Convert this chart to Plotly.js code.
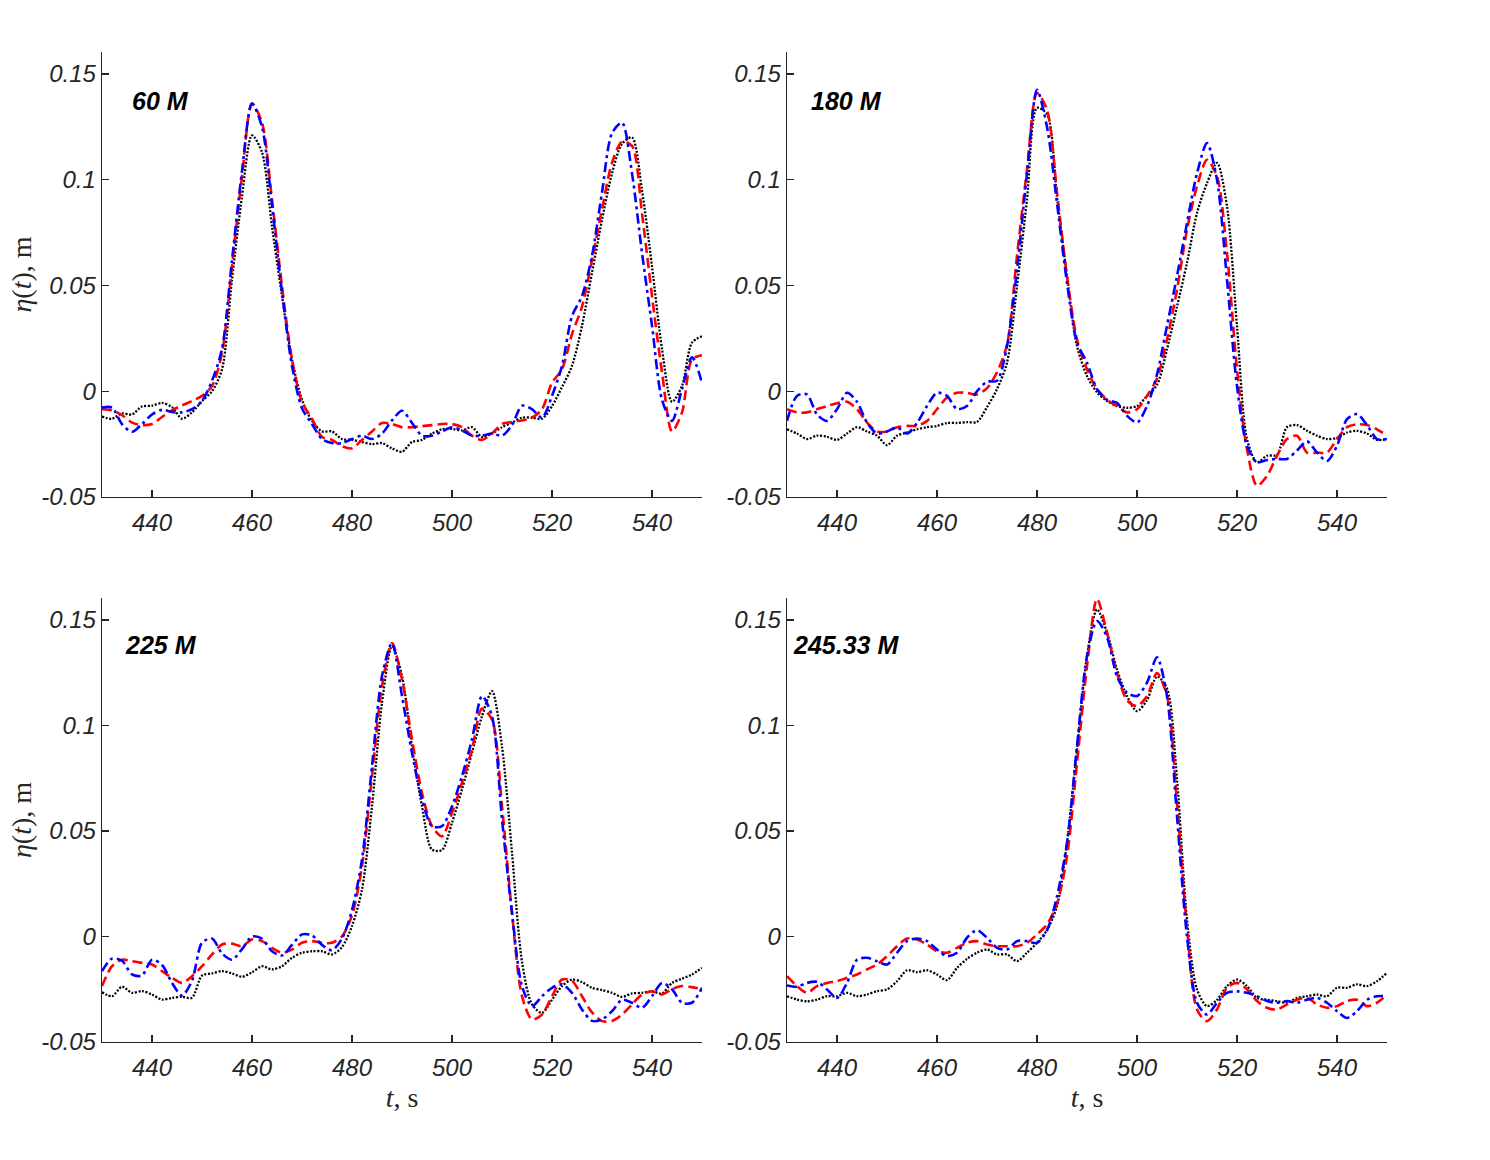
<!DOCTYPE html>
<html>
<head>
<meta charset="utf-8">
<script src="https://cdn.plot.ly/plotly-3.0.1.min.js"></script>
<style>
  html, body { margin: 0; padding: 0; background: #fff; }
  #chart { width: 1490px; height: 1160px; }
</style>
</head>
<body>
<div id="chart"></div>
<script>
/* Surface elevation at four gauges: measured (black), two model runs (red, blue) */

const timeS = [
    430, 432, 434, 436, 438, 440, 442, 444, 446, 448,
    450, 452, 454, 456, 458, 460, 462, 464, 466, 468,
    470, 472, 474, 476, 478, 480, 482, 484, 486, 488,
    490, 492, 494, 496, 498, 500, 502, 504, 506, 508,
    510, 512, 514, 516, 518, 520, 522, 524, 526, 528,
    530, 532, 534, 536, 538, 540, 542, 544, 546, 548,
    550
];

const panelLabels = ['60 M', '180 M', '225 M', '245.33 M'];

const xTicks = [440, 460, 480, 500, 520, 540];
const yTicks = [-0.05, 0, 0.05, 0.1, 0.15];
const yTickText = ['-0.05', '0', '0.05', '0.1', '0.15'];

// gauge 60 M
const g60Measured = [
    -0.012, -0.013, -0.0105, -0.011, -0.0072, -0.0068, -0.0055, -0.0075, -0.013, -0.010,
    -0.0046, 0.0, 0.0104, 0.053, 0.092, 0.121, 0.113, 0.078, 0.045, 0.015,
    -0.004, -0.014, -0.019, -0.019, -0.0226, -0.023, -0.024, -0.025, -0.0245, -0.027,
    -0.0286, -0.024, -0.023, -0.020, -0.018, -0.0178, -0.0185, -0.017, -0.0217, -0.020,
    -0.017, -0.0148, -0.0125, -0.0125, -0.013, -0.007, 0.002, 0.012, 0.031, 0.056,
    0.081, 0.103, 0.117, 0.120, 0.095, 0.059, 0.020, -0.005, 0.0025, 0.023,
    0.026
];
const g60ModelA = [
    -0.0085, -0.009, -0.0113, -0.0148, -0.016, -0.0155, -0.0122, -0.009, -0.0067, -0.0046,
    -0.0022, 0.0025, 0.018, 0.059, 0.1015, 0.136, 0.127, 0.0906, 0.0497, 0.015,
    -0.0052, -0.013, -0.0216, -0.023, -0.026, -0.027, -0.023, -0.019, -0.015, -0.0155,
    -0.017, -0.017, -0.0165, -0.016, -0.0155, -0.0155, -0.017, -0.021, -0.023, -0.020,
    -0.0155, -0.0145, -0.0138, -0.0125, -0.0085, 0.004, 0.0104, 0.027, 0.040, 0.062,
    0.086, 0.108, 0.118, 0.116, 0.084, 0.045, 0.009, -0.019, -0.010, 0.015,
    0.017
];
const g60ModelB = [
    -0.0077, -0.0077, -0.0155, -0.0192, -0.0155, -0.011, -0.0088, -0.0098, -0.010, -0.0085,
    -0.0046, 0.0049, 0.020, 0.062, 0.104, 0.136, 0.125, 0.088, 0.047, 0.012,
    -0.008, -0.0155, -0.0226, -0.0245, -0.0245, -0.0226, -0.021, -0.0226, -0.020, -0.0138,
    -0.0092, -0.015, -0.021, -0.021, -0.019, -0.017, -0.0185, -0.021, -0.021, -0.020,
    -0.021, -0.016, -0.0068, -0.0085, -0.0125, -0.0022, 0.012, 0.0355, 0.045, 0.064,
    0.094, 0.122, 0.127, 0.103, 0.0655, 0.031, -0.004, -0.014, 0.001, 0.016,
    0.004
];

// gauge 180 M
const g180Measured = [
    -0.018, -0.020, -0.0226, -0.021, -0.0215, -0.023, -0.020, -0.017, -0.019, -0.021,
    -0.0255, -0.021, -0.0195, -0.018, -0.017, -0.0164, -0.015, -0.015, -0.0146, -0.0145,
    -0.0075, 0.001, 0.0135, 0.0497, 0.0906, 0.134, 0.131, 0.092, 0.0544, 0.0214,
    0.0072, -0.0005, -0.0046, -0.007, -0.0078, -0.007, -0.0022, 0.003, 0.0198, 0.040,
    0.0607, 0.0843, 0.0984, 0.108, 0.0874, 0.0308, -0.0226, -0.0336, -0.0305, -0.030,
    -0.017, -0.016, -0.0187, -0.021, -0.0226, -0.022, -0.0195, -0.0187, -0.020, -0.023,
    -0.0226
];
const g180ModelA = [
    -0.0085, -0.010, -0.010, -0.0085, -0.007, -0.0057, -0.005, -0.0085, -0.0148, -0.019,
    -0.019, -0.017, -0.0164, -0.0164, -0.014, -0.0085, -0.003, -0.0007, -0.0008, -0.0015,
    0.0015, 0.009, 0.022, 0.064, 0.1047, 0.141, 0.133, 0.094, 0.0544, 0.0245,
    0.0104, 0.001, -0.004, -0.007, -0.010, -0.0085, -0.0022, 0.006, 0.0245, 0.048,
    0.0764, 0.0969, 0.1094, 0.1016, 0.0654, 0.0104, -0.0274, -0.0447, -0.040, -0.0305,
    -0.0226, -0.021, -0.029, -0.029, -0.029, -0.0226, -0.017, -0.0156, -0.016, -0.018,
    -0.021
];
const g180ModelB = [
    -0.014, -0.0022, -0.0015, -0.011, -0.014, -0.0085, -0.0007, -0.005, -0.0148, -0.020,
    -0.019, -0.017, -0.020, -0.015, -0.007, -0.0007, -0.0022, -0.0085, -0.007, 0.0,
    0.0045, 0.005, 0.0214, 0.0575, 0.103, 0.1425, 0.125, 0.089, 0.0513, 0.023,
    0.0135, 0.001, -0.004, -0.0055, -0.0116, -0.0148, -0.007, 0.008, 0.031, 0.0544,
    0.0795, 0.103, 0.1173, 0.100, 0.0528, 0.0025, -0.0258, -0.0336, -0.0325, -0.032,
    -0.032, -0.028, -0.0237, -0.029, -0.033, -0.0258, -0.0132, -0.0108, -0.016, -0.0226,
    -0.0226
];

// gauge 225 M
const g225Measured = [
    -0.0264, -0.0283, -0.0238, -0.0267, -0.0259, -0.0275, -0.0299, -0.0291, -0.0286, -0.029,
    -0.0185, -0.0175, -0.0164, -0.0175, -0.0191, -0.017, -0.0141, -0.0156, -0.0141, -0.0101,
    -0.0077, -0.007, -0.007, -0.0085, -0.005, 0.005, 0.0223, 0.0617, 0.1107, 0.1376,
    0.1234, 0.090, 0.0617, 0.0412, 0.041, 0.0539, 0.0697, 0.0871, 0.1044, 0.1163,
    0.090, 0.0397, -0.012, -0.0322, -0.0362, -0.030, -0.0235, -0.0204, -0.0216, -0.0243,
    -0.0254, -0.0267, -0.0286, -0.027, -0.0267, -0.026, -0.027, -0.022, -0.020, -0.018,
    -0.0149
];
const g225ModelA = [
    -0.0235, -0.0141, -0.011, -0.0117, -0.0125, -0.0133, -0.0164, -0.0196, -0.022, -0.0188,
    -0.0141, -0.0085, -0.0038, -0.0034, -0.0046, -0.0014, -0.0022, -0.0054, -0.0077, -0.0062,
    -0.003, -0.0022, -0.003, -0.003, 0.0001, 0.010, 0.0333, 0.076, 0.1186, 0.139,
    0.1218, 0.0934, 0.068, 0.0523, 0.0475, 0.0586, 0.0728, 0.0886, 0.108, 0.1028,
    0.0617, 0.0112, -0.0283, -0.0393, -0.037, -0.0283, -0.0204, -0.021, -0.0283, -0.036,
    -0.0401, -0.040, -0.037, -0.0322, -0.0275, -0.026, -0.0275, -0.025, -0.0235, -0.024,
    -0.025
];
const g225ModelB = [
    -0.0164, -0.0105, -0.0115, -0.018, -0.0185, -0.011, -0.0135, -0.022, -0.028, -0.021,
    -0.003, -0.001, -0.008, -0.011, -0.006, 0.0, -0.001, -0.007, -0.009, -0.004,
    0.001, 0.0005, -0.004, -0.0065, -0.001, 0.0125, 0.0365, 0.0807, 0.1234, 0.139,
    0.1139, 0.087, 0.065, 0.0523, 0.0523, 0.0617, 0.076, 0.0934, 0.1139, 0.1044,
    0.0555, 0.0112, -0.0235, -0.033, -0.0283, -0.0243, -0.0227, -0.0267, -0.0346, -0.040,
    -0.0393, -0.0354, -0.030, -0.0314, -0.0338, -0.0283, -0.022, -0.025, -0.0314, -0.0314,
    -0.0243
];

// gauge 245.33 M
const g245Measured = [
    -0.0283, -0.0299, -0.0307, -0.0299, -0.0283, -0.0283, -0.0267, -0.0283, -0.0275, -0.0259,
    -0.0251, -0.0212, -0.016, -0.0169, -0.016, -0.018, -0.0207, -0.0149, -0.0106, -0.0077,
    -0.0062, -0.0085, -0.0085, -0.0117, -0.0077, -0.003, 0.003, 0.0144, 0.0444, 0.0886,
    0.1328, 0.155, 0.144, 0.1265, 0.1139, 0.1068, 0.112, 0.1232, 0.1175, 0.0744,
    0.008, -0.0251, -0.033, -0.030, -0.0235, -0.0204, -0.0235, -0.0291, -0.030, -0.0306,
    -0.0314, -0.0291, -0.0283, -0.0275, -0.0283, -0.0243, -0.0243, -0.0227, -0.0235, -0.0212,
    -0.0172
];
const g245ModelA = [
    -0.0188, -0.0235, -0.0267, -0.0235, -0.022, -0.0212, -0.0196, -0.018, -0.0156, -0.0133,
    -0.0093, -0.0046, -0.001, -0.0014, -0.0038, -0.007, -0.0077, -0.0054, -0.003, -0.0022,
    -0.0038, -0.0046, -0.0046, -0.0046, -0.003, 0.001, 0.0057, 0.0155, 0.038, 0.0822,
    0.1281, 0.160, 0.144, 0.1248, 0.112, 0.1092, 0.1139, 0.1248, 0.1139, 0.0634,
    0.004, -0.0346, -0.0401, -0.0346, -0.0243, -0.022, -0.025, -0.0306, -0.0338, -0.0346,
    -0.0322, -0.030, -0.0291, -0.0322, -0.0338, -0.033, -0.0306, -0.030, -0.033, -0.0314,
    -0.0275
];
const g245ModelB = [
    -0.0232, -0.0238, -0.022, -0.0215, -0.0251, -0.0291, -0.022, -0.011, -0.0101, -0.0117,
    -0.0133, -0.0077, -0.0022, -0.001, -0.0022, -0.0062, -0.0093, -0.0077, -0.0006, 0.003,
    -0.0006, -0.0054, -0.0062, -0.0022, -0.0022, -0.003, 0.003, 0.019, 0.0444, 0.0902,
    0.1328, 0.1495, 0.142, 0.1233, 0.1155, 0.114, 0.1203, 0.1323, 0.1139, 0.057,
    0.0, -0.0314, -0.037, -0.0314, -0.0267, -0.026, -0.0267, -0.0283, -0.0306, -0.0314,
    -0.0306, -0.0314, -0.030, -0.0291, -0.0314, -0.0354, -0.0386, -0.0354, -0.030, -0.0283,
    -0.0283
];

const panels = [
    { measured: g60Measured, modelA: g60ModelA, modelB: g60ModelB },
    { measured: g180Measured, modelA: g180ModelA, modelB: g180ModelB },
    { measured: g225Measured, modelA: g225ModelA, modelB: g225ModelB },
    { measured: g245Measured, modelA: g245ModelA, modelB: g245ModelB },
];

const AXIS_COLOR = '#262626';
const TICK_FONT = { family: 'Liberation Sans, Arial, sans-serif', size: 24, style: 'italic', color: AXIS_COLOR };
const TITLE_FONT = { family: 'Liberation Serif, Times New Roman, serif', size: 28, color: AXIS_COLOR };

const traces = [];
panels.forEach((p, i) => {
    const n = i === 0 ? '' : String(i + 1);
    const common = { x: timeS, type: 'scatter', mode: 'lines', xaxis: 'x' + n, yaxis: 'y' + n, showlegend: false };
    traces.push({ ...common, y: p.measured, line: { color: '#000000', width: 2.3, dash: '2px,1.6px', shape: 'spline', smoothing: 0.8 } });
    traces.push({ ...common, y: p.modelA, line: { color: '#FF0000', width: 2.6, dash: '10px,5px', shape: 'spline', smoothing: 0.8 } });
    traces.push({ ...common, y: p.modelB, line: { color: '#0000FF', width: 2.6, dash: '10px,4px,3px,4px', shape: 'spline', smoothing: 0.8 } });
});

function xAxis(domain, anchor, withTitle) {
    return {
        domain: domain, anchor: anchor, range: [430, 550],
        tickvals: xTicks, ticks: 'inside', ticklen: 7, tickwidth: 1.3, tickcolor: AXIS_COLOR,
        showline: true, linecolor: AXIS_COLOR, linewidth: 1.3, ticklabelstandoff: 4,
        showgrid: false, zeroline: false, tickfont: TICK_FONT,
        title: withTitle ? { text: '<i>t</i>, s', font: TITLE_FONT, standoff: 7 } : undefined,
    };
}

function yAxis(domain, anchor, withTitle) {
    return {
        domain: domain, anchor: anchor, range: [-0.05, 0.1604],
        tickvals: yTicks, ticktext: yTickText, ticks: 'inside', ticklen: 7, tickwidth: 1.3, tickcolor: AXIS_COLOR,
        showline: true, linecolor: AXIS_COLOR, linewidth: 1.3,
        showgrid: false, zeroline: false, tickfont: TICK_FONT,
        title: withTitle ? { text: '<i>η</i>(<i>t</i>), m', font: TITLE_FONT, standoff: 1 } : undefined,
    };
}

const W = 1490, H = 1160;
const colL = [102 / W, 702 / W];
const colR = [787 / W, 1387 / W];
const rowT = [1 - 497 / H, 1 - 52 / H];
const rowB = [1 - 1042 / H, 1 - 598 / H];

const labelPos = [
    { x: 435.6, y: 0.1373, xref: 'x', yref: 'y' },
    { x: 434.4, y: 0.1373, xref: 'x2', yref: 'y2' },
    { x: 434.2, y: 0.1379, xref: 'x3', yref: 'y3' },
    { x: 430.8, y: 0.1379, xref: 'x4', yref: 'y4' },
];

const layout = {
    width: W, height: H,
    margin: { l: 0, r: 0, t: 0, b: 0 },
    paper_bgcolor: '#ffffff', plot_bgcolor: '#ffffff',
    xaxis: xAxis(colL, 'y', false),
    yaxis: yAxis(rowT, 'x', true),
    xaxis2: xAxis(colR, 'y2', false),
    yaxis2: yAxis(rowT, 'x2', false),
    xaxis3: xAxis(colL, 'y3', true),
    yaxis3: yAxis(rowB, 'x3', true),
    xaxis4: xAxis(colR, 'y4', true),
    yaxis4: yAxis(rowB, 'x4', false),
    annotations: panelLabels.map((label, i) => ({
        ...labelPos[i], text: '<b><i>' + label + '</i></b>', showarrow: false,
        xanchor: 'left', yanchor: 'middle',
        font: { family: 'Liberation Sans, Arial, sans-serif', size: 25, color: '#000000' },
    })),
};

Plotly.newPlot('chart', traces, layout, { displayModeBar: false, staticPlot: true });
</script>
</body>
</html>
